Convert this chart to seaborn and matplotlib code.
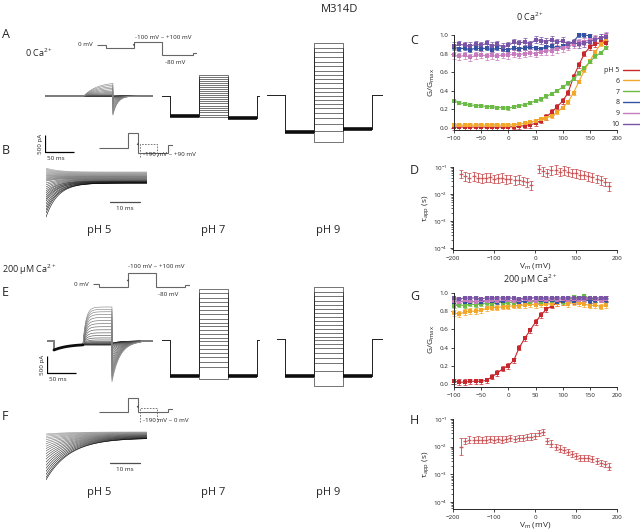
import numpy as np
import pandas as pd
import seaborn as sns
import matplotlib.pyplot as plt
from matplotlib.lines import Line2D

sns.set_style("ticks")
plt.rcParams['font.family'] = ['Open Sans', 'DejaVu Sans']
plt.rcParams['mathtext.fontset'] = 'custom'
plt.rcParams['mathtext.rm'] = 'Open Sans'
plt.rcParams['mathtext.it'] = 'Open Sans:italic'
plt.rcParams['mathtext.default'] = 'regular'

W, H = 640, 531

# ---------------- G/Gmax vs Vm ----------------
v_g = list(range(-100, 190, 10))
ph_labels = ['pH 5', '6', '7', '8', '9', '10']
ph_colors = ['#c8282d', '#f2a62a', '#6dbb47', '#3552a3', '#c77bbd', '#7a55a6']

c_ph5 = [0.01, 0.01, 0.01, 0.01, 0.01, 0.01, 0.01, 0.01, 0.01, 0.01, 0.01, 0.015, 0.02, 0.025, 0.035,
         0.05, 0.08, 0.12, 0.17, 0.23, 0.29, 0.38, 0.55, 0.68, 0.8, 0.87, 0.9, 0.92, 0.91]
c_ph6 = [0.03, 0.03, 0.03, 0.03, 0.03, 0.03, 0.03, 0.03, 0.03, 0.03, 0.03, 0.035, 0.04, 0.05, 0.06,
         0.08, 0.1, 0.11, 0.13, 0.17, 0.22, 0.28, 0.38, 0.5, 0.62, 0.72, 0.82, 0.9, 0.96]
c_ph7 = [0.29, 0.27, 0.26, 0.25, 0.24, 0.24, 0.23, 0.23, 0.22, 0.22, 0.21, 0.23, 0.24, 0.25, 0.27,
         0.29, 0.31, 0.34, 0.37, 0.4, 0.44, 0.48, 0.53, 0.59, 0.65, 0.71, 0.77, 0.81, 0.86]
c_ph8 = [0.87, 0.85, 0.86, 0.84, 0.86, 0.85, 0.86, 0.84, 0.86, 0.85, 0.84, 0.86, 0.85, 0.86, 0.87,
         0.86, 0.85, 0.87, 0.88, 0.86, 0.88, 0.9, 0.93, 1.0, 1.0, 0.99, np.nan, np.nan, np.nan]
c_ph9 = [0.78, 0.77, 0.78, 0.76, 0.78, 0.79, 0.77, 0.78, 0.77, 0.79, 0.78, 0.8, 0.79, 0.8, 0.81,
         0.8, 0.82, 0.83, 0.83, 0.85, 0.86, 0.88, 0.9, 0.92, 0.93, 0.95, 0.96, 0.97, 0.99]
c_ph10 = [0.88, 0.9, 0.89, 0.88, 0.9, 0.89, 0.91, 0.88, 0.9, 0.87, 0.89, 0.92, 0.91, 0.93, 0.9,
          0.95, 0.94, 0.93, 0.95, 0.92, 0.94, 0.9, 0.92, 0.9, 0.91, 0.93, 0.95, 0.97, 0.98]
c_err = [0.03, 0.02, 0.015, 0.02, 0.04, 0.04]

g_ph5 = [0.03, 0.02, 0.02, 0.03, 0.03, 0.03, 0.04, 0.08, 0.12, 0.17, 0.2, 0.26, 0.4, 0.5, 0.59,
         0.68, 0.76, 0.82, 0.86, 0.89, 0.9, 0.92, 0.91, 0.92, 0.93, 0.92, 0.93, 0.93, 0.94]
g_ph6 = [0.78, 0.77, 0.79, 0.8, 0.8, 0.81, 0.83, 0.84, 0.84, 0.85, 0.85, 0.86, 0.86, 0.87, 0.88,
         0.87, 0.88, 0.88, 0.88, 0.89, 0.9, 0.88, 0.9, 0.89, 0.88, 0.86, 0.87, 0.85, 0.87]
g_ph7 = [0.86, 0.87, 0.86, 0.88, 0.87, 0.88, 0.89, 0.88, 0.9, 0.89, 0.9, 0.89, 0.9, 0.91, 0.9,
         0.91, 0.9, 0.92, 0.91, 0.92, 0.9, 0.93, 0.96, 0.95, 0.97, 0.94, 0.92, 0.93, 0.92]
g_ph8 = [0.9, 0.91, 0.9, 0.9, 0.91, 0.9, 0.92, 0.91, 0.9, 0.91, 0.92, 0.91, 0.9, 0.91, 0.92,
         0.91, 0.92, 0.91, 0.92, 0.9, 0.91, 0.92, 0.91, 0.92, 0.93, 0.91, 0.92, 0.93, 0.92]
g_ph9 = [0.91, 0.9, 0.92, 0.91, 0.9, 0.92, 0.91, 0.92, 0.91, 0.93, 0.92, 0.91, 0.92, 0.93, 0.92,
         0.91, 0.93, 0.92, 0.93, 0.92, 0.93, 0.92, 0.93, 0.92, 0.93, 0.94, 0.93, 0.92, 0.93]
g_ph10 = [0.94, 0.93, 0.95, 0.94, 0.95, 0.93, 0.95, 0.94, 0.95, 0.94, 0.95, 0.94, 0.93, 0.95, 0.94,
          0.95, 0.94, 0.95, 0.94, 0.95, 0.94, 0.95, 0.94, 0.95, 0.95, 0.94, 0.94, 0.95, 0.95]
g_err = [0.03, 0.03, 0.02, 0.02, 0.02, 0.02]

# ---------------- tau_app vs Vm (pH 5) ----------------
v_tau = list(range(-180, 190, 10))
d_tau = [0.055, 0.045, 0.04, 0.045, 0.04, 0.038, 0.04, 0.042, 0.036, 0.038, 0.04, 0.035, 0.036,
         0.032, 0.034, 0.03, 0.027, 0.021, np.nan, 0.085, 0.07, 0.06, 0.075, 0.08, 0.065, 0.075,
         0.068, 0.06, 0.058, 0.052, 0.05, 0.045, 0.042, 0.036, 0.032, 0.028, 0.019]
h_tau = [0.01, 0.016, 0.018, 0.017, 0.018, 0.017, 0.018, 0.019, 0.018, 0.019, 0.018, 0.019, 0.02,
         0.019, 0.02, 0.021, 0.022, 0.023, 0.024, 0.032, 0.033, 0.016, 0.013, 0.01, 0.0085, 0.0075,
         0.0065, 0.0055, 0.0045, 0.004, 0.0038, 0.004, 0.0035, 0.003, 0.0026, 0.0023, 0.0019]
d_fac = 1.45
h_fac = [2.0] + [1.3] * 36

# ---------------- current traces (pA) ----------------
# 0 Ca2+, pH 5: end-of-pulse current and tail peak per sweep
a5_test = [-10, -10, -8, -6, -5, -4, -3, -2, 0, 5, 15, 30, 55, 85, 120, 160, 205, 255, 305, 360, 410]
a5_tail = [-5, -5, -5, -5, -5, -8, -12, -18, -30, -50, -80, -120, -160, -210, -260, -320, -380, -440,
           -500, -540, -560]
a7_test = [630, 560, 500, 440, 380, 320, 260, 200, 140, 80, 20, -40, -100, -160, -220, -280, -340,
           -410, -480, -550, -620]
a7_pre, a7_tail = -590, -660
a9_test = [1530, 1390, 1250, 1110, 980, 850, 720, 590, 460, 340, 220, 100, -20, -140, -260, -390,
           -530, -680, -850, -1050, -1380]
a9_pre, a9_tail = -1090, -1000
# 200 uM Ca2+
e5_pre0, e5_pre1 = -265, -90
e5_test = [-120, -110, -100, -90, -80, -60, -40, -10, 30, 90, 160, 240, 330, 420, 510, 600, 690,
           780, 860, 930, 1000]
e5_tail = [-60, -70, -80, -100, -130, -170, -220, -280, -350, -430, -510, -590, -670, -750, -830,
           -900, -960, -1020, -1080, -1130, -1200]
e7_test = [1500, 1370, 1240, 1110, 990, 870, 750, 630, 510, 400, 290, 180, 70, -40, -150, -260,
           -380, -500, -640, -800, -1150]
e7_pre, e7_tail = -1060, -1060
e9_test = [1530, 1390, 1260, 1130, 1000, 880, 760, 640, 520, 400, 290, 180, 70, -40, -150, -270,
           -400, -550, -720, -950, -1380]
e9_pre, e9_tail = -1100, -1100
# tail families (B: -190..+90 mV, F: -190..0 mV)
b_start = [350, 320, 295, 265, 235, 205, 175, 145, 120, 90, 60, 30, 0, -30, -90, -145, -205, -265,
           -325, -380, -440, -500, -560, -620, -705, -795, -880, -970, -1090]
b_end = [235, 220, 205, 190, 175, 160, 145, 130, 115, 100, 90, 75, 60, 45, 30, 15, 0, -15, -30, -30,
         -45, -45, -60, -60, -75, -75, -90, -90, -90]
f_start = [30, 0, -40, -90, -140, -200, -260, -330, -400, -470, -550, -630, -710, -800, -890, -980,
           -1070, -1160, -1250, -1320]
f_end = [90, 80, 70, 60, 50, 40, 30, 20, 10, 0, -10, -20, -30, -40, -50, -60, -70, -80, -90, -90]

# voltage protocols (ms edges, schematic mV levels)
proto_a_t = [-15.5, 0, 48.3, 96.5, 150, 157]
proto_a_v = [0, -27, 27, -80, -67]
proto_e_t = [-10.3, 0, 50, 98.3, 148.3, 157]
proto_e_v = [0, -24, 88, -24, -6]
proto_b_t = [0, 50, 67.2, 119, 127.6]
proto_b_v = [0, 120, -40, 22]
proto_f_t = [0, 50, 67.2, 119, 127.6]
proto_f_v = [0, 107, 0, 22]

MSPP, PAPP = 1.724, 29.4
T_PRE, T_TEST, T_TAIL, T_POST = 0, 50, 100, 150

fig = plt.figure(figsize=(6.4, 5.31), dpi=100)


def box(x0, y0, x1, y1):
    return [x0 / W, 1 - y1 / H, (x1 - x0) / W, (y1 - y0) / H]


def ftext(x, y, s, **kw):
    kw.setdefault('va', 'center')
    fig.text(x / W, 1 - y / H, s, **kw)


def trace_axes(x_px, y_px, t0, t1, i0, i1, mspp=MSPP, papp=PAPP):
    ax = fig.add_axes(box(x_px, y_px - i1 / papp, x_px + (t1 - t0) / mspp, y_px - i0 / papp))
    ax.set_xlim(t0, t1)
    ax.set_ylim(i0, i1)
    ax.axis('off')
    return ax


def greys(n, lo=0.6, hi=0.0):
    return [str(round(g, 3)) for g in np.linspace(lo, hi, n)]


def draw_df(ax, df, lw=0.45, pal=None):
    n = df['sweep'].nunique()
    sns.lineplot(data=df, x='t', y='i', units='sweep', estimator=None, sort=False, hue='sweep',
                 palette=pal or greys(n), legend=False, lw=lw, ax=ax)
    ax.set_xlabel('')
    ax.set_ylabel('')
    ax.axis('off')


def gating_family(ax, test_amp, tail_amp, tau_act, tau_tail, t0, t1, pre0=0.0, pre1=0.0, tau_pre=20.0):
    tp = np.linspace(T_PRE, T_TEST, 30)
    tt = np.linspace(T_TEST, T_TAIL, 60)
    tl = np.linspace(T_TAIL, T_POST, 60)
    ip = pre1 + (pre0 - pre1) * np.exp(-(tp - T_PRE) / tau_pre)
    rows = []
    for k, (a, b) in enumerate(zip(test_amp, tail_amp)):
        it = ip[-1] + (a - ip[-1]) * (1 - np.exp(-(tt - T_TEST) / tau_act))
        il = b * np.exp(-(tl - T_TAIL) / tau_tail)
        t = np.concatenate([[t0, T_PRE], tp, tt, tl, [T_POST, t1]])
        i = np.concatenate([[0, 0], ip, it, il, [0, 0]])
        rows.append(pd.DataFrame({'t': t, 'i': i, 'sweep': k}))
    draw_df(ax, pd.concat(rows), pal=greys(len(test_amp), 0.1, 0.55))
    if pre0 != 0:
        ax.plot(tp, ip, color='0.05', lw=2.0)


def square_family(ax, levels, pre, tail, t0, t1):
    t = [t0, T_PRE, T_PRE, T_TEST, T_TEST, T_TAIL, T_TAIL, T_POST, T_POST, t1]
    rows = []
    for k, lv in enumerate(levels):
        i = [0, 0, pre, pre, lv, lv, tail, tail, 0, 0]
        rows.append(pd.DataFrame({'t': t, 'i': i, 'sweep': k}))
    draw_df(ax, pd.concat(rows), pal=['0.15'] * len(levels))
    ax.plot([T_PRE, T_TEST], [pre, pre], color='0.05', lw=2.6, solid_capstyle='butt')
    ax.plot([T_TAIL, T_POST], [tail, tail], color='0.05', lw=2.6, solid_capstyle='butt')


def decay_family(ax, i_start, i_end, tau, t1):
    t = np.linspace(0, t1, 90)
    rows = []
    for k, (s, e) in enumerate(zip(i_start, i_end)):
        rows.append(pd.DataFrame({'t': t, 'i': e + (s - e) * np.exp(-t / tau), 'sweep': k}))
    draw_df(ax, pd.concat(rows), lw=0.4, pal=greys(len(i_start), 0.6, 0.0))


def protocol_axes(x_px, y_px, edges, levels, mvpp=8.0):
    vmin, vmax = min(levels) - 100, max(levels) + 100
    ax = fig.add_axes(box(x_px, y_px - vmax / mvpp, x_px + (edges[-1] - edges[0]) / MSPP,
                          y_px - vmin / mvpp))
    ax.set_xlim(edges[0], edges[-1])
    ax.set_ylim(vmin, vmax)
    ax.axis('off')
    ax.stairs(levels, edges, baseline=None, color='0.4', lw=0.8)
    return ax


def arrow(ax, x, y, dx, dy):
    ax.annotate('', xy=(x + dx, y + dy), xytext=(x - dx, y - dy),
                arrowprops=dict(arrowstyle='-|>', lw=0.4, color='0.3', mutation_scale=3))


def scale_bar(ax, t0, i0, dt, di, xlabel, ylabel):
    ax.plot([t0, t0, t0 + dt], [i0 + di, i0, i0], color='k', lw=0.9, solid_capstyle='butt')
    ax.text(t0 - 4, i0 + di / 2, ylabel, rotation=90, ha='right', va='center', fontsize=4.5)
    ax.text(t0 + 3, i0 - 120, xlabel, ha='left', va='top', fontsize=4.5)


# ---------- row A (0 Ca2+) ----------
ax = trace_axes(45, 96, -17, 169, -1800, 500)
gating_family(ax, a5_test, a5_tail, 22, 8, -17, 169)
scale_bar(ax, -17, -1650, 50, 500, '50 ms', '500 pA')
ax = trace_axes(162, 96, -14, 155, -700, 700)
square_family(ax, a7_test, a7_pre, a7_tail, -14, 155)
ax = trace_axes(267, 95, -31, 169, -1450, 1600)
square_family(ax, a9_test, a9_pre, a9_tail, -31, 169)

ax = protocol_axes(97, 45, proto_a_t, proto_a_v)
arrow(ax, 48.3, 0, 2.0, 12)
ftext(93, 45, '0 mV', ha='right', fontsize=4.5)
ftext(135, 37, '-100 mV ~ +100 mV', ha='left', fontsize=4.5)
ftext(165, 62, '-80 mV', ha='left', fontsize=4.5)

# ---------- row B ----------
ax = trace_axes(46, 180, 0, 33.7, -1200, 450, mspp=0.3333)
decay_family(ax, b_start, b_end, 4.0, 33.7)
ax.plot([21.3, 31.3], [-650, -650], color='0.3', lw=0.9)
ax.text(26.3, -760, '10 ms', ha='center', va='top', fontsize=4.5)
ax = protocol_axes(99, 148, proto_b_t, proto_b_v)
ax.plot([70.7, 70.7, 100, 100], [-72, 30, 30, -72], color='0.4', lw=0.6, ls=(0, (2, 1.5)))
arrow(ax, 67.2, 30, 1.5, 12)
ftext(143, 155, '-190 mV ~ +90 mV', ha='left', fontsize=4.5)

# ---------- row E (200 uM Ca2+) ----------
ax = trace_axes(47, 341, -12, 171, -1400, 1100)
gating_family(ax, e5_test, e5_tail, 5, 14, -12, 171, pre0=e5_pre0, pre1=e5_pre1, tau_pre=25)
scale_bar(ax, -12, -950, 50, 500, '50 ms', '500 pA')
ax = trace_axes(162, 340, -14, 155, -1250, 1600)
square_family(ax, e7_test, e7_pre, e7_tail, -14, 155)
ax = trace_axes(277, 339, -14, 169, -1450, 1600)
square_family(ax, e9_test, e9_pre, e9_tail, -14, 169)

ax = protocol_axes(93, 284.3, proto_e_t, proto_e_v)
arrow(ax, 50, 30, 2.0, 12)
ftext(89, 284, '0 mV', ha='right', fontsize=4.5)
ftext(128, 267, '-100 mV ~ +100 mV', ha='left', fontsize=4.5)
ftext(158, 294, '-80 mV', ha='left', fontsize=4.5)

# ---------- row F ----------
ax = trace_axes(46, 435, 0, 33.7, -1450, 200, mspp=0.3333)
decay_family(ax, f_start, f_end, 8.0, 33.7)
ax.plot([21.3, 31.3], [-823, -823], color='0.3', lw=0.9)
ax.text(26.3, -930, '10 ms', ha='center', va='top', fontsize=4.5)
ax = protocol_axes(99, 411.7, proto_f_t, proto_f_v)
ax.plot([70.7, 70.7, 100, 100], [-80, 32, 32, -80], color='0.4', lw=0.6, ls=(0, (2, 1.5)))
arrow(ax, 67.2, 40, 1.5, 12)
ftext(143, 421, '-190 mV ~ 0 mV', ha='left', fontsize=4.5)

# ---------- labels ----------
for x, y, s in [(2, 35, 'A'), (2, 150, 'B'), (2, 293, 'E'), (2, 417, 'F'),
                (410, 40, 'C'), (410, 170, 'D'), (410, 297, 'G'), (410, 420, 'H')]:
    ftext(x, y, s, ha='left', fontsize=9)
ftext(25, 53, '0 Ca$^{2+}$', ha='left', fontsize=6.5)
ftext(2, 270, '200 µM Ca$^{2+}$', ha='left', fontsize=6.5)
for y in [230, 492]:
    ftext(99, y, 'pH 5', ha='center', fontsize=8)
    ftext(213, y, 'pH 7', ha='center', fontsize=8)
    ftext(328, y, 'pH 9', ha='center', fontsize=8)
ftext(340, 10, 'M314D', ha='center', fontsize=8)
ftext(530, 17, '0 Ca$^{2+}$', ha='center', fontsize=6.5)
ftext(530, 280, '200 µM Ca$^{2+}$', ha='center', fontsize=6.5)


# ---------- right column ----------
def style(ax):
    sns.despine(ax=ax)
    ax.tick_params(labelsize=4.5, length=2.5, width=0.6, pad=1.5)
    ax.tick_params(which='minor', length=1.3, width=0.5)
    for s in ['left', 'bottom']:
        ax.spines[s].set_linewidth(0.7)
    ax.set_facecolor('none')


def gg_panel(rect, series, errs):
    ax = fig.add_axes(box(*rect))
    df = pd.DataFrame({'V': v_g * len(series), 'G': np.concatenate(series),
                       'pH': np.repeat(ph_labels, len(v_g))})
    for lab, col, y, e in zip(ph_labels, ph_colors, series, errs):
        ax.errorbar(v_g, y, yerr=e, fmt='none', ecolor=col, elinewidth=0.6, capsize=1.2,
                    capthick=0.6, alpha=0.85, clip_on=False)
    sns.lineplot(data=df, x='V', y='G', hue='pH', palette=ph_colors, marker='s', markersize=3,
                 markeredgewidth=0, lw=0.8, legend=False, ax=ax, clip_on=False)
    ax.set_xlim(-100, 200)
    ax.set_xticks([-100, -50, 0, 50, 100, 150, 200])
    ax.set_yticks([0, 0.2, 0.4, 0.6, 0.8, 1.0])
    ax.set_yticklabels(['0.0', '0.2', '0.4', '0.6', '0.8', '1.0'])
    ax.set_xlabel('')
    ax.set_ylabel('G/G$_{max}$', fontsize=6, labelpad=2)
    style(ax)
    return ax


def tau_panel(rect, vals, fac, ylim_lo):
    ax = fig.add_axes(box(*rect))
    y = np.array(vals)
    f = np.array(fac) * np.ones_like(y)
    ax.errorbar(v_tau, y, yerr=[y - y / f, y * f - y], fmt='_', ms=2.5, color='#c8474a',
                ecolor='#c8474a', elinewidth=0.7, capsize=1.3, capthick=0.6, alpha=0.85,
                clip_on=False)
    ax.set_yscale('log')
    ax.set_xlim(-200, 200)
    ax.set_ylim(ylim_lo, 1e-1)
    ax.set_xticks([-200, -100, 0, 100, 200])
    ax.set_yticks([1e-4, 1e-3, 1e-2, 1e-1])
    ax.set_xlabel('V$_m$ (mV)', fontsize=6, labelpad=0.5)
    ax.set_ylabel('τ$_{app}$ (s)', fontsize=6, labelpad=2)
    style(ax)
    return ax


ax_c = gg_panel((454, 35, 617, 130), [c_ph5, c_ph6, c_ph7, c_ph8, c_ph9, c_ph10], c_err)
ax_c.set_ylim(-0.0215, 1.0)
handles = [Line2D([], [], color=c, lw=1.0) for c in ph_colors]
ax_c.legend(handles, ph_labels, markerfirst=False, frameon=False, fontsize=5, handlelength=2.4,
            handletextpad=0.5, labelspacing=0.55, loc='upper right',
            bbox_to_anchor=(1.0, 1 - 67 / H), bbox_transform=fig.transFigure,
            borderpad=0, borderaxespad=0)
ax_g = gg_panel((454, 293, 617, 387), [g_ph5, g_ph6, g_ph7, g_ph8, g_ph9, g_ph10], g_err)
ax_g.set_ylim(-0.033, 1.0)

tau_panel((453, 167, 617, 250), d_tau, d_fac, 10 ** (-4 - 2 / 27))
tau_panel((453, 419, 617, 509), h_tau, h_fac, 10 ** (-4 - 7 / 27.5))

fig.savefig('out.png', dpi=100)
